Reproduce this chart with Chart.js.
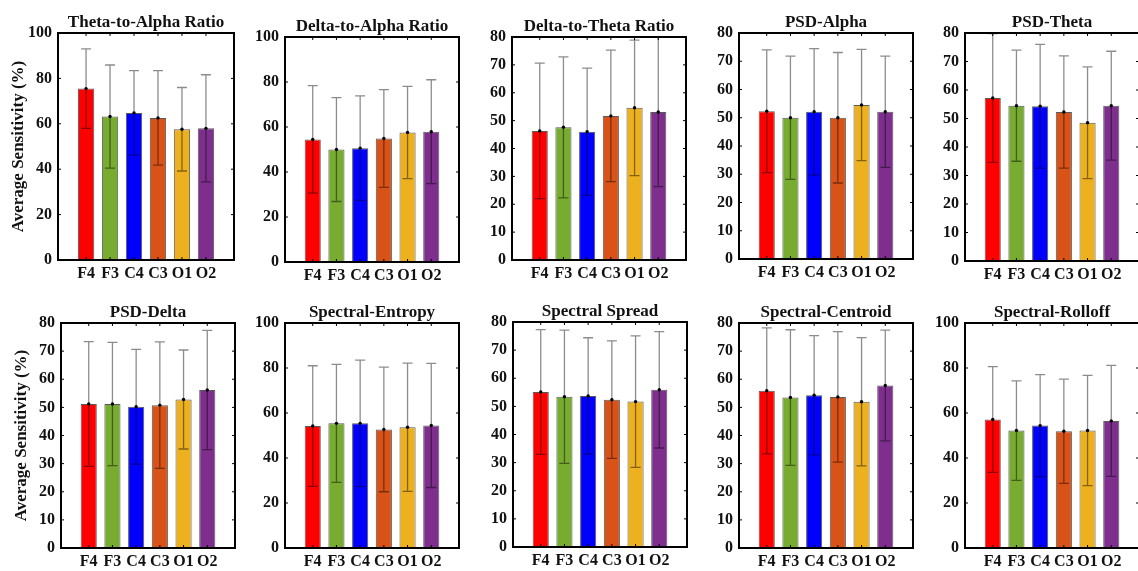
<!DOCTYPE html>
<html>
<head>
<meta charset="utf-8">
<script src="https://cdn.jsdelivr.net/npm/chart.js@4.4.1/dist/chart.umd.min.js"></script>
<style>
  body { margin: 0; background: #fff; }
  #wrap { position: relative; width: 1138px; height: 571px; overflow: hidden; background: #fff; }
  #wrap canvas { position: absolute; }
</style>
</head>
<body>
<div id="wrap"></div>
<script>
// channel labels and bar colours
const channels = ['F4', 'F3', 'C4', 'C3', 'O1', 'O2'];
const barColors = ['#ff0000', '#77ac30', '#0000ff', '#d95319', '#edb120', '#7e2f8e'];

const titles = ['Theta-to-Alpha Ratio', 'Delta-to-Alpha Ratio', 'Delta-to-Theta Ratio', 'PSD-Alpha', 'PSD-Theta',
                'PSD-Delta', 'Spectral-Entropy', 'Spectral Spread', 'Spectral-Centroid', 'Spectral-Rolloff'];
const yMax  = [100, 100, 80, 80, 80, 80, 100, 80, 80, 100];
const yStep = [20, 20, 10, 10, 10, 10, 20, 10, 10, 20];

// mean sensitivity (%) and standard deviation per channel
const thetaAlphaMean = [75.5, 63.2, 64.8, 62.6, 57.6, 58.0];
const thetaAlphaSd   = [17.5, 22.7, 18.6, 20.8, 18.4, 23.6];
const deltaAlphaMean = [54.5, 50.0, 50.6, 54.9, 57.6, 57.9];
const deltaAlphaSd   = [23.9, 23.1, 23.2, 21.7, 20.5, 23.1];
const deltaThetaMean = [46.3, 47.6, 46.0, 51.7, 54.6, 53.1];
const deltaThetaSd   = [24.3, 25.3, 22.8, 23.6, 24.3, 26.8];
const psdAlphaMean   = [52.3, 50.0, 52.1, 50.0, 54.5, 52.1];
const psdAlphaSd     = [21.7, 21.8, 22.4, 23.1, 19.7, 19.7];
const psdThetaMean   = [57.2, 54.5, 54.3, 52.3, 48.5, 54.5];
const psdThetaSd     = [22.6, 19.5, 21.7, 19.7, 19.6, 19.1];
const psdDeltaMean   = [51.2, 51.2, 50.2, 50.8, 52.8, 56.2];
const psdDeltaSd     = [22.2, 21.9, 20.4, 22.5, 17.6, 21.2];
const entropyMean    = [54.2, 55.4, 55.4, 52.7, 53.7, 54.5];
const entropySd      = [26.8, 26.2, 28.1, 27.7, 28.5, 27.6];
const spreadMean     = [55.1, 53.4, 53.7, 52.4, 51.7, 55.9];
const spreadSd       = [22.2, 23.7, 20.7, 20.9, 23.4, 20.7];
const centroidMean   = [55.9, 53.5, 54.3, 53.7, 52.0, 57.8];
const centroidSd     = [22.4, 24.1, 21.2, 23.2, 22.8, 19.7];
const rolloffMean    = [57.1, 52.2, 54.4, 51.9, 52.2, 56.5];
const rolloffSd      = [23.5, 22.1, 22.7, 23.2, 24.5, 24.7];

const means = [thetaAlphaMean, deltaAlphaMean, deltaThetaMean, psdAlphaMean, psdThetaMean,
               psdDeltaMean, entropyMean, spreadMean, centroidMean, rolloffMean];
const sds   = [thetaAlphaSd, deltaAlphaSd, deltaThetaSd, psdAlphaSd, psdThetaSd,
               psdDeltaSd, entropySd, spreadSd, centroidSd, rolloffSd];

// plot box of each panel: left, top, width, height
const boxes = [
  [58, 33, 176, 227], [285, 37, 174, 225], [512, 37, 174, 223], [739, 33, 174, 226], [965, 33, 174, 228],
  [61, 323, 174, 225], [285, 323, 174, 225], [513, 322, 174, 225], [739, 323, 174, 225], [965, 323, 174, 225]
];
// same margin left and right so the title centres over the box
const padL = 58, padT = 34, padR = 58, padB = 24;
const FONT = "'Liberation Serif', 'DejaVu Serif', serif";

// error bars with caps and a dot at the mean
const errorBars = {
  id: 'errorBars',
  afterDatasetsDraw(chart) {
    const ctx = chart.ctx, y = chart.scales.y, area = chart.chartArea;
    const sd = chart.options.plugins.errorBars.sd;
    const meta = chart.getDatasetMeta(0);
    meta.data.forEach((bar, i) => {
      const v = chart.data.datasets[0].data[i].y;
      const yHi = Math.max(area.top, y.getPixelForValue(v + sd[i]));
      const yLo = y.getPixelForValue(v - sd[i]);
      ctx.save();
      ctx.strokeStyle = 'rgba(0,0,0,0.45)';
      ctx.lineWidth = 1.3;
      ctx.beginPath();
      ctx.moveTo(bar.x, yHi); ctx.lineTo(bar.x, yLo);
      ctx.moveTo(bar.x - 5, yHi); ctx.lineTo(bar.x + 5, yHi);
      ctx.moveTo(bar.x - 5, yLo); ctx.lineTo(bar.x + 5, yLo);
      ctx.stroke();
      ctx.fillStyle = '#000';
      ctx.beginPath();
      ctx.arc(bar.x, bar.y, 1.7, 0, Math.PI * 2);
      ctx.fill();
      ctx.restore();
    });
  }
};

// black frame with inward tick marks on all sides
const frame = {
  id: 'frame',
  afterDraw(chart) {
    const ctx = chart.ctx, a = chart.chartArea;
    const xs = chart.scales.x, ys = chart.scales.y;
    ctx.save();
    ctx.strokeStyle = '#000';
    ctx.lineWidth = 1;
    ctx.beginPath();
    ys.ticks.forEach(t => {
      const py = ys.getPixelForValue(t.value);
      ctx.moveTo(a.left, py); ctx.lineTo(a.left + 3, py);
      ctx.moveTo(a.right, py); ctx.lineTo(a.right - 3, py);
    });
    xs.ticks.forEach(t => {
      const px = xs.getPixelForValue(t.value);
      ctx.moveTo(px, a.top); ctx.lineTo(px, a.top + 3);
      ctx.moveTo(px, a.bottom); ctx.lineTo(px, a.bottom - 3);
    });
    ctx.stroke();
    ctx.lineWidth = 2;
    ctx.strokeRect(a.left, a.top, a.right - a.left, a.bottom - a.top);
    ctx.restore();
  }
};

const wrap = document.getElementById('wrap');

boxes.forEach((b, p) => {
  const [l, t, w, h] = b;
  const cv = document.createElement('canvas');
  cv.width = w + padL + padR;
  cv.height = h + padT + padB;
  cv.style.left = (l - padL) + 'px';
  cv.style.top = (t - padT) + 'px';
  wrap.appendChild(cv);

  const showYTitle = (p === 0 || p === 5);

  new Chart(cv.getContext('2d'), {
    type: 'bar',
    data: {
      datasets: [{
        data: means[p].map((m, i) => ({ x: i + 1, y: m })),
        backgroundColor: barColors,
        borderColor: '#5a5a5a',
        borderWidth: 1,
        barPercentage: 0.68,
        categoryPercentage: 1
      }]
    },
    options: {
      responsive: false,
      animation: false,
      devicePixelRatio: 1,
      layout: { padding: 0 },
      plugins: {
        legend: { display: false },
        tooltip: { enabled: false },
        title: {
          display: true,
          text: titles[p],
          color: '#111',
          font: { family: FONT, size: 17, weight: 'bold', lineHeight: 1 },
          padding: { top: 15, bottom: 2 }
        },
        errorBars: { sd: sds[p] }
      },
      scales: {
        x: {
          type: 'linear',
          offset: false,
          min: -0.17,
          max: 7.17,
          afterBuildTicks: s => { s.ticks = channels.map((c, i) => ({ value: i + 1 })); },
          afterFit: s => { s.height = padB; },
          grid: { display: false, drawTicks: false, tickLength: 0 },
          border: { display: false },
          ticks: {
            autoSkip: false,
            maxRotation: 0,
            padding: 4,
            color: '#111',
            font: { family: FONT, size: 16, weight: 'bold' },
            callback: v => channels[v - 1] || ''
          }
        },
        y: {
          min: 0,
          max: yMax[p],
          afterFit: s => { s.width = padL; },
          grid: { display: false, drawTicks: false, tickLength: 0 },
          border: { display: false },
          ticks: {
            stepSize: yStep[p],
            padding: 6,
            color: '#111',
            font: { family: FONT, size: 16, weight: 'bold' }
          },
          title: {
            display: showYTitle,
            text: 'Average Sensitivity (%)',
            color: '#111',
            font: { family: FONT, size: 17, weight: 'bold' },
            padding: { top: 8, bottom: 0 }
          }
        },
        // empty right-hand axis, only reserves room so the title sits centred over the box
        yRight: {
          position: 'right',
          min: 0,
          max: yMax[p],
          afterFit: s => { s.width = padR; },
          grid: { display: false, drawTicks: false, tickLength: 0 },
          border: { display: false },
          ticks: { display: false }
        }
      }
    },
    plugins: [errorBars, frame]
  });
});
</script>
</body>
</html>
